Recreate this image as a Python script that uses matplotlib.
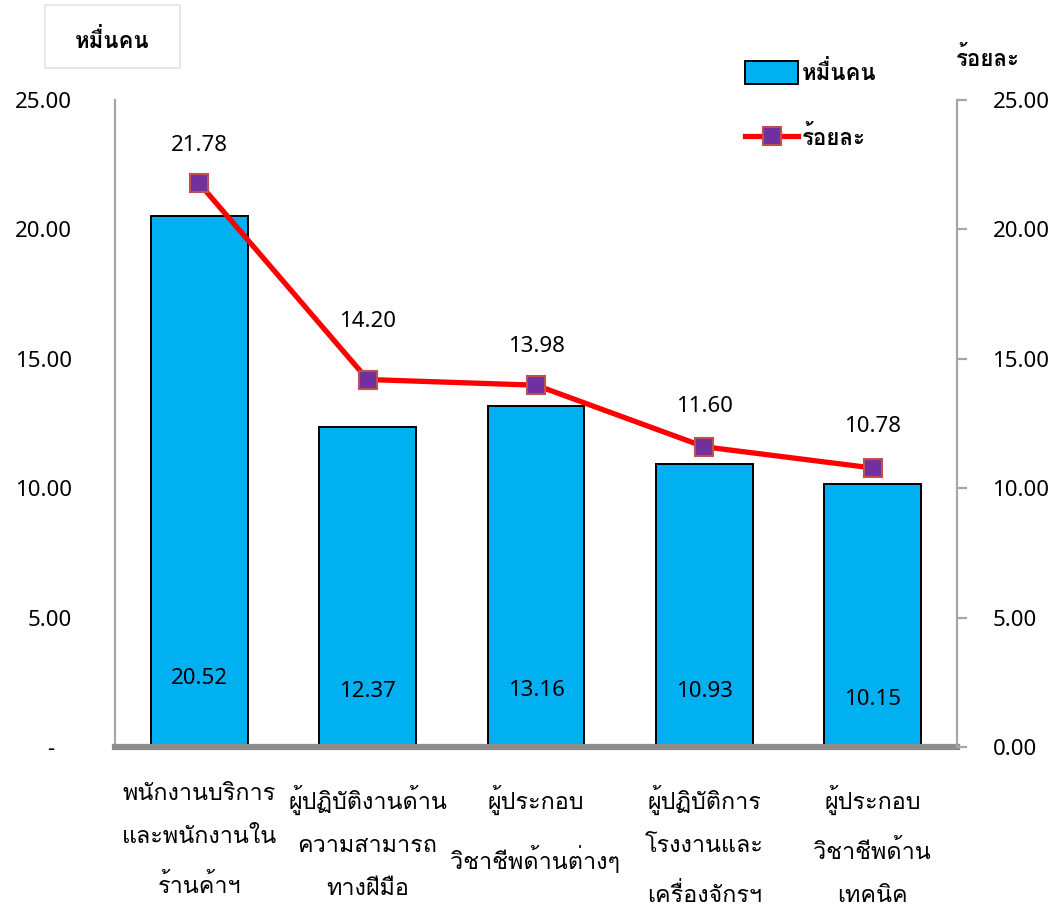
import matplotlib
matplotlib.use("Agg")
import matplotlib.pyplot as plt
from matplotlib.patches import Rectangle
from matplotlib.lines import Line2D

FAM = ['Loma', 'Sarabun', 'DejaVu Sans']
NUMFAM = ['Noto Sans', 'DejaVu Sans']
plt.rcParams['font.family'] = FAM

categories = [
    "พนักงานบริการ\nและพนักงานใน\nร้านค้าฯ",
    "ผู้ปฏิบัติงานด้าน\nความสามารถ\nทางฝีมือ",
    "ผู้ประกอบ\nวิชาชีพด้านต่างๆ",
    "ผู้ปฏิบัติการ\nโรงงานและ\nเครื่องจักรฯ",
    "ผู้ประกอบ\nวิชาชีพด้าน\nเทคนิค",
]
people_10k = [20.52, 12.37, 13.16, 10.93, 10.15]
percent = [21.78, 14.20, 13.98, 11.60, 10.78]
left_ticks = [0, 5, 10, 15, 20, 25]
left_tick_labels = ["-   ", "5.00", "10.00", "15.00", "20.00", "25.00"]
right_tick_labels = ["0.00", "5.00", "10.00", "15.00", "20.00", "25.00"]
series_bar_name = "หมื่นคน"
series_line_name = "ร้อยละ"

W, H = 1061, 907
FS = 16
FS_CAT = 16.8
fig = plt.figure(figsize=(W/100, H/100), dpi=100)
ax = fig.add_axes([115/W, 1-747/H, (957-115)/W, (747-100)/H])
x = list(range(len(categories)))

ax.bar(x, people_10k, width=0.575, color="#00B0F0", edgecolor="black", linewidth=1.4, zorder=2)
ax.set_xlim(-0.5, len(categories) - 0.5)
ax.set_ylim(0, 25)
ax.set_yticks(left_ticks)
ax.set_yticklabels(left_tick_labels, fontsize=FS, family=NUMFAM)
ax.tick_params(axis='y', length=0, pad=31)
ax.set_xticks(x)
ax.set_xticklabels(categories, fontsize=FS_CAT, linespacing=2.35)
ax.tick_params(axis='x', length=0, pad=27)

ax.spines['top'].set_visible(False)
ax.spines['right'].set_visible(False)
ax.spines['left'].set_color("#A6A6A6")
ax.spines['left'].set_linewidth(1.6)
ax.spines['bottom'].set_color("#8C8C8C")
ax.spines['bottom'].set_linewidth(4.5)

bar_label_y = [2.65, 2.15, 2.2, 2.15, 1.85]
for xi, v, yl in zip(x, people_10k, bar_label_y):
    ax.text(xi, yl, f"{v:.2f}", ha='center', va='center', fontsize=FS, family=NUMFAM, zorder=3)

ax2 = ax.twinx()
ax2.set_ylim(0, 25)
ax2.plot(x, percent, color="#FF0000", linewidth=3.8, marker='s', markersize=13,
         markerfacecolor="#7030A0", markeredgecolor="#C0504D", markeredgewidth=1.5, zorder=4)
ax2.set_yticks(left_ticks)
ax2.set_yticklabels(right_tick_labels, fontsize=FS, family=NUMFAM)
ax2.tick_params(axis='y', length=7.5, width=1.6, color="#A6A6A6", pad=18)
for s in ['top', 'left', 'bottom']:
    ax2.spines[s].set_visible(False)
ax2.spines['right'].set_color("#A6A6A6")
ax2.spines['right'].set_linewidth(1.6)

line_label_off = [38, 58, 39, 40, 42]
for xi, v, off in zip(x, percent, line_label_off):
    ax2.annotate(f"{v:.2f}", (xi, v), xytext=(0, off*0.72), textcoords='offset points',
                 ha='center', va='center', fontsize=FS, family=NUMFAM)

# top-left unit label in a box
fig.patches.append(Rectangle((45/W, 1-68/H), 135/W, 63/H, transform=fig.transFigure,
                             facecolor='white', edgecolor='#E3E3E3', linewidth=1.2))
fig.text(112/W, 1-40/H, series_bar_name, ha='center', va='center', fontsize=FS, fontweight='bold')
fig.text(988/W, 1-58/H, series_line_name, ha='center', va='center', fontsize=FS, fontweight='bold')

handles = [Rectangle((0, 0), 1, 1, facecolor="#00B0F0", edgecolor="black", linewidth=1.4),
           Line2D([], [], color="#FF0000", linewidth=3.8, marker='s', markersize=13,
                  markerfacecolor="#7030A0", markeredgecolor="#C0504D", markeredgewidth=1.5)]
leg = fig.legend(handles, [series_bar_name, series_line_name], loc='upper left',
                 bbox_to_anchor=(745/W, 1-60/H), frameon=False, handlelength=2.4,
                 handleheight=1.2, handletextpad=0.15, labelspacing=1.85,
                 borderpad=0, borderaxespad=0,
                 prop={'size': FS, 'weight': 'bold', 'family': FAM})

fig.savefig("out.png")
